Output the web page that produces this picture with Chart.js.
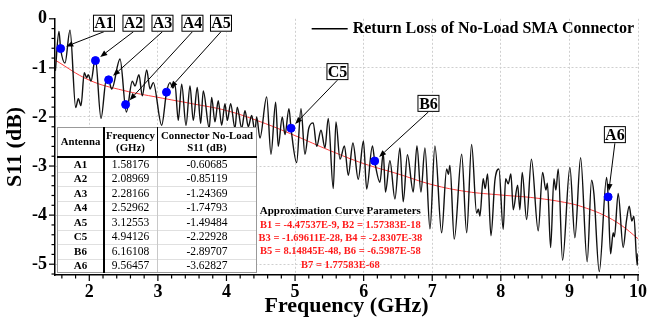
<!DOCTYPE html>
<html>
<head>
<meta charset="utf-8">
<script src="https://cdn.jsdelivr.net/npm/chart.js@4"></script>
<style>
  html, body { margin: 0; padding: 0; background: #fff; }
</style>
</head>
<body>
<canvas id="s11Chart" width="662" height="320"></canvas>
<script>
const SERIF = "'Liberation Serif', 'Times New Roman', serif";

// measured S11 of the unloaded SMA connector (GHz / dB)
const freqGHz = [
  1.505, 1.558, 1.582, 1.646, 1.719, 1.802, 1.840, 1.879, 1.927, 1.962,
  1.985, 2.025, 2.088, 2.171, 2.250, 2.282, 2.327, 2.448, 2.540, 2.627,
  2.666, 2.724, 2.773, 2.837, 2.885, 2.933, 3.055, 3.126, 3.176, 3.220,
  3.249, 3.297, 3.347, 3.410, 3.468, 3.516, 3.574, 3.624, 3.662, 3.749,
  3.784, 3.832, 3.880, 3.930, 3.978, 4.012, 4.061, 4.124, 4.157, 4.222,
  4.270, 4.318, 4.367, 4.415, 4.440, 4.488, 4.586, 4.649, 4.717, 4.755,
  4.813, 4.853, 4.911, 4.941, 5.023, 5.086, 5.144, 5.200, 5.265, 5.315,
  5.378, 5.436, 5.484, 5.557, 5.596, 5.655, 5.720, 5.776, 5.844, 5.921,
  5.997, 6.044, 6.128, 6.161, 6.238, 6.286, 6.318, 6.383, 6.456, 6.529,
  6.577, 6.638, 6.723, 6.777, 6.835, 6.894, 6.967, 7.039, 7.137, 7.210,
  7.236, 7.258, 7.321, 7.429, 7.502, 7.574, 7.647, 7.673, 7.695, 7.743,
  7.772, 7.807, 7.856, 7.914, 7.972, 8.035, 8.070, 8.108, 8.147, 8.181,
  8.245, 8.278, 8.312, 8.376, 8.446, 8.545, 8.609, 8.657, 8.679, 8.726,
  8.774, 8.803, 8.837, 8.900, 9.007, 9.080, 9.163, 9.259, 9.323, 9.357,
  9.435, 9.542, 9.565, 9.600, 9.638, 9.656, 9.711, 9.784, 9.831, 9.872,
  9.910, 9.940, 9.988, 10.0
];
const s11dB = [
  -1.06, -0.26, -0.61, -0.90, -0.23, -1.81, -1.63, -1.77, -1.10, -1.20,
  -1.14, -1.27, -0.80, -2.03, -1.22, -1.24, -1.43, -0.82, -1.90, -1.27,
  -1.37, -1.14, -1.57, -1.04, -1.43, -1.30, -2.17, -1.50, -1.30, -1.41,
  -1.33, -2.07, -1.33, -2.17, -1.37, -2.07, -1.40, -2.13, -1.47, -2.23,
  -1.60, -2.10, -1.67, -2.17, -1.73, -2.07, -1.73, -2.23, -1.80, -2.23,
  -1.87, -2.20, -1.97, -2.29, -2.00, -2.43, -1.59, -2.76, -1.70, -2.60,
  -2.00, -2.36, -1.83, -2.23, -2.93, -1.83, -2.76, -2.23, -2.12, -2.60,
  -2.27, -2.63, -2.03, -3.46, -2.10, -2.86, -2.59, -3.19, -2.53, -3.27,
  -2.49, -3.47, -2.59, -2.90, -3.33, -2.73, -3.53, -2.89, -3.67, -2.63,
  -3.73, -2.77, -3.53, -2.59, -3.53, -2.63, -4.28, -2.59, -4.36, -3.06,
  -3.17, -2.99, -4.49, -2.76, -4.36, -2.56, -3.96, -3.88, -4.02, -3.26,
  -3.46, -3.16, -4.42, -3.29, -3.06, -4.29, -3.26, -3.36, -3.16, -3.89,
  -3.39, -3.89, -3.13, -4.09, -2.86, -4.32, -3.13, -3.49, -3.35, -4.66,
  -3.26, -3.49, -3.06, -4.92, -3.03, -4.46, -2.83, -4.95, -3.29, -3.56,
  -5.15, -3.23, -3.63, -4.79, -4.36, -4.44, -3.56, -4.66, -4.12, -3.82,
  -4.12, -4.02, -5.02, -4.78
];

// 7th-order approximation curve
const fitGHz = [1.5, 2, 2.5, 3, 3.5, 4, 4.5, 5, 5.5, 6, 6.5, 7, 7.5, 8, 8.5, 9, 9.25, 9.5, 9.75, 10];
const fitDB = [-0.84, -1.25, -1.46, -1.6, -1.73, -1.87, -2.1, -2.38, -2.68, -2.95,
               -3.16, -3.38, -3.52, -3.59, -3.65, -3.76, -3.86, -4.0, -4.2, -4.48];

// marked antenna resonances
const antennas = ['A1', 'A2', 'A3', 'A4', 'A5', 'C5', 'B6', 'A6'];
const antFreq = [1.58176, 2.08969, 2.28166, 2.52962, 3.12553, 4.94126, 6.16108, 9.56457];
const antS11 = [-0.60685, -0.85119, -1.24369, -1.74793, -1.49484, -2.22928, -2.89707, -3.62827];

const xTicks = [2, 3, 4, 5, 6, 7, 8, 9, 10];
const yTicks = [0, -1, -2, -3, -4, -5];

const paramTitle = 'Approximation Curve Parameters';
const paramLines = [
  'B1 = -4.47537E-9, B2 = 1.57383E-18',
  'B3 = -1.69611E-28, B4 = -2.8307E-38',
  'B5 = 8.14845E-48, B6 = -6.5987E-58',
  'B7 = 1.77583E-68'
];

// callout box centres, in axis units
const calloutAt = {
  A1: [2.214, -0.09], A2: [2.644, -0.09], A3: [3.067, -0.09], A4: [3.504, -0.09],
  A5: [3.92, -0.09], C5: [5.618, -1.076], B6: [6.945, -1.723], A6: [9.663, -2.36]
};

function arrow(ctx, x1, y1, x2, y2) {
  const a = Math.atan2(y2 - y1, x2 - x1);
  const hl = 7, hw = 2.8;
  const bx = x2 - hl * Math.cos(a), by = y2 - hl * Math.sin(a);
  ctx.beginPath();
  ctx.moveTo(x1, y1);
  ctx.lineTo(bx, by);
  ctx.stroke();
  ctx.beginPath();
  ctx.moveTo(x2, y2);
  ctx.lineTo(bx + hw * Math.sin(a), by - hw * Math.cos(a));
  ctx.lineTo(bx - hw * Math.sin(a), by + hw * Math.cos(a));
  ctx.closePath();
  ctx.fill();
}

const decorations = {
  id: 'decorations',
  afterDatasetsDraw(chart) {
    const { ctx, chartArea: area, scales: { x, y } } = chart;
    ctx.save();

    // minor / major ticks on both axes
    ctx.strokeStyle = '#000';
    ctx.lineWidth = 1.2;
    for (let v = 16; v <= 100; v += 2) {
      const px = x.getPixelForValue(v / 10);
      const len = v % 10 === 0 ? 6 : 3.5;
      ctx.beginPath();
      ctx.moveTo(px, area.bottom);
      ctx.lineTo(px, area.bottom + len);
      ctx.stroke();
    }
    for (let v = 0; v >= -52; v -= 2) {
      const py = y.getPixelForValue(v / 10);
      const len = v % 10 === 0 ? 6 : 3.5;
      ctx.beginPath();
      ctx.moveTo(area.left - len, py);
      ctx.lineTo(area.left, py);
      ctx.stroke();
    }

    // legend
    ctx.font = 'bold 16px ' + SERIF;
    ctx.textBaseline = 'middle';
    ctx.textAlign = 'left';
    const legText = chart.data.datasets[0].label;
    const tw = ctx.measureText(legText).width;
    const lx = area.right - 4 - tw, ly = area.top + 10;
    ctx.fillStyle = '#000';
    ctx.fillText(legText, lx, ly);
    ctx.lineWidth = 1.4;
    ctx.beginPath();
    ctx.moveTo(lx - 41, ly);
    ctx.lineTo(lx - 5, ly);
    ctx.stroke();

    // callouts
    ctx.font = 'bold 16px ' + SERIF;
    ctx.textAlign = 'center';
    antennas.forEach((name, i) => {
      const [cf, cd] = calloutAt[name];
      const cx = x.getPixelForValue(cf), cy = y.getPixelForValue(cd);
      const w = 22, h = 17;
      const dx = x.getPixelForValue(antFreq[i]), dy = y.getPixelForValue(antS11[i]);
      const sx = cx, sy = cy + h / 2;
      const d = Math.hypot(sx - dx, sy - dy);
      const tx = dx + (sx - dx) * 6 / d, ty = dy + (sy - dy) * 6 / d;
      ctx.strokeStyle = '#000';
      ctx.fillStyle = '#000';
      ctx.lineWidth = 1;
      arrow(ctx, sx, sy, tx, ty);
      ctx.fillStyle = '#fff';
      ctx.fillRect(cx - w / 2, cy - h / 2, w, h);
      ctx.strokeRect(cx - w / 2 + 0.5, cy - h / 2 + 0.5, w - 1, h - 1);
      ctx.fillStyle = '#000';
      ctx.fillText(name, cx, cy + 1);
    });

    // resonance table
    const tl = area.left + 2, tr = tl + 200, tb = area.bottom - 2;
    const headH = 30, rowH = 14.5;
    const tt = tb - headH - rowH * antennas.length;
    const c1 = tl + 47, c2 = tl + 100;
    ctx.fillStyle = '#fff';
    ctx.fillRect(tl, tt, tr - tl, tb - tt);
    ctx.strokeStyle = '#e0e0e0';
    ctx.lineWidth = 1;
    for (let r = 1; r < antennas.length; r++) {
      const ry = Math.round(tt + headH + r * rowH) + 0.5;
      ctx.beginPath();
      ctx.moveTo(tl, ry);
      ctx.lineTo(tr, ry);
      ctx.stroke();
    }
    ctx.strokeStyle = '#c8c8c8';
    ctx.beginPath();
    ctx.moveTo(c2 + 0.5, tt + headH);
    ctx.lineTo(c2 + 0.5, tb);
    ctx.stroke();
    ctx.strokeStyle = '#999';
    ctx.strokeRect(tl + 0.5, tt + 0.5, tr - tl - 1, tb - tt - 1);
    ctx.strokeStyle = '#000';
    ctx.beginPath();
    ctx.moveTo(c2 + 0.5, tt);
    ctx.lineTo(c2 + 0.5, tt + headH);
    ctx.stroke();
    ctx.lineWidth = 2;
    ctx.beginPath();
    ctx.moveTo(tl, tt + headH);
    ctx.lineTo(tr, tt + headH);
    ctx.moveTo(c1, tt);
    ctx.lineTo(c1, tb);
    ctx.stroke();

    ctx.fillStyle = '#000';
    ctx.font = 'bold 10.8px ' + SERIF;
    const m0 = (tl + c1) / 2, m1 = (c1 + c2) / 2, m2 = (c2 + tr) / 2;
    ctx.fillText('Antenna', m0, tt + 15.5);
    ctx.fillText('Frequency', m1, tt + 9);
    ctx.fillText('(GHz)', m1, tt + 21.5);
    ctx.fillText('Connector No-Load', m2, tt + 9);
    ctx.fillText('S11 (dB)', m2, tt + 21.5);
    antennas.forEach((name, i) => {
      const ry = tt + headH + rowH * (i + 0.5) + 0.5;
      ctx.font = 'bold 11px ' + SERIF;
      ctx.fillText(name, m0, ry);
      ctx.font = '11.5px ' + SERIF;
      ctx.fillText(antFreq[i].toFixed(5), m1, ry);
      ctx.fillText(antS11[i].toFixed(5), m2, ry);
    });

    // approximation parameters
    const pcx = x.getPixelForValue(5.66);
    let py = y.getPixelForValue(-3.924);
    ctx.font = 'bold 11px ' + SERIF;
    ctx.fillStyle = '#000';
    ctx.fillText(paramTitle, pcx, py);
    ctx.font = 'bold 10.5px ' + SERIF;
    ctx.fillStyle = '#ff1a1a';
    paramLines.forEach(line => {
      py += 13.4;
      ctx.fillText(line, pcx, py);
    });

    ctx.restore();
  }
};

const axisFont = { family: SERIF, size: 18, weight: 'bold' };
const titleFont = { family: SERIF, size: 22, weight: 'bold' };

new Chart(document.getElementById('s11Chart'), {
  type: 'line',
  data: {
    datasets: [
      {
        label: 'Return Loss of No-Load SMA Connector',
        data: freqGHz.map((f, i) => ({ x: f, y: s11dB[i] })),
        borderColor: '#111',
        borderWidth: 1.4,
        pointRadius: 0,
        cubicInterpolationMode: 'monotone',
        order: 2
      },
      {
        label: 'Approximation',
        data: fitGHz.map((f, i) => ({ x: f, y: fitDB[i] })),
        borderColor: '#ff3b3b',
        borderWidth: 1,
        pointRadius: 0,
        tension: 0.4,
        order: 3
      },
      {
        label: 'Antennas',
        type: 'scatter',
        data: antFreq.map((f, i) => ({ x: f, y: antS11[i] })),
        pointRadius: 4,
        backgroundColor: '#0000ff',
        borderColor: '#0000ff',
        order: 1
      }
    ]
  },
  options: {
    responsive: false,
    animation: false,
    devicePixelRatio: 1,
    layout: { padding: { left: 0, right: 24, top: 13, bottom: 0 } },
    plugins: { legend: { display: false }, tooltip: { enabled: false } },
    scales: {
      x: {
        type: 'linear',
        min: 1.5,
        max: 10,
        afterBuildTicks: s => { s.ticks = xTicks.map(v => ({ value: v })); },
        afterFit: s => { s.height = 45; },
        grid: { color: '#cfcfcf', drawTicks: false },
        border: { color: '#000', width: 1.5, dash: [2, 2] },
        ticks: { padding: 7, color: '#000', font: axisFont, callback: v => v },
        title: { display: true, text: 'Frequency (GHz)', color: '#000', font: titleFont, padding: 0 }
      },
      y: {
        min: -5.22,
        max: 0,
        afterBuildTicks: s => { s.ticks = yTicks.map(v => ({ value: v })); },
        afterFit: s => { s.width = 55; },
        grid: { color: c => (c.tick && c.tick.value === 0 ? 'rgba(0,0,0,0)' : '#cfcfcf'), drawTicks: false },
        border: { color: '#000', width: 1.5, dash: [2, 2] },
        ticks: { padding: 8, color: '#000', font: axisFont, callback: v => v },
        title: { display: true, text: 'S11 (dB)', color: '#000', font: titleFont, padding: { top: 2, bottom: 0 } }
      }
    }
  },
  plugins: [decorations]
});
</script>
</body>
</html>
